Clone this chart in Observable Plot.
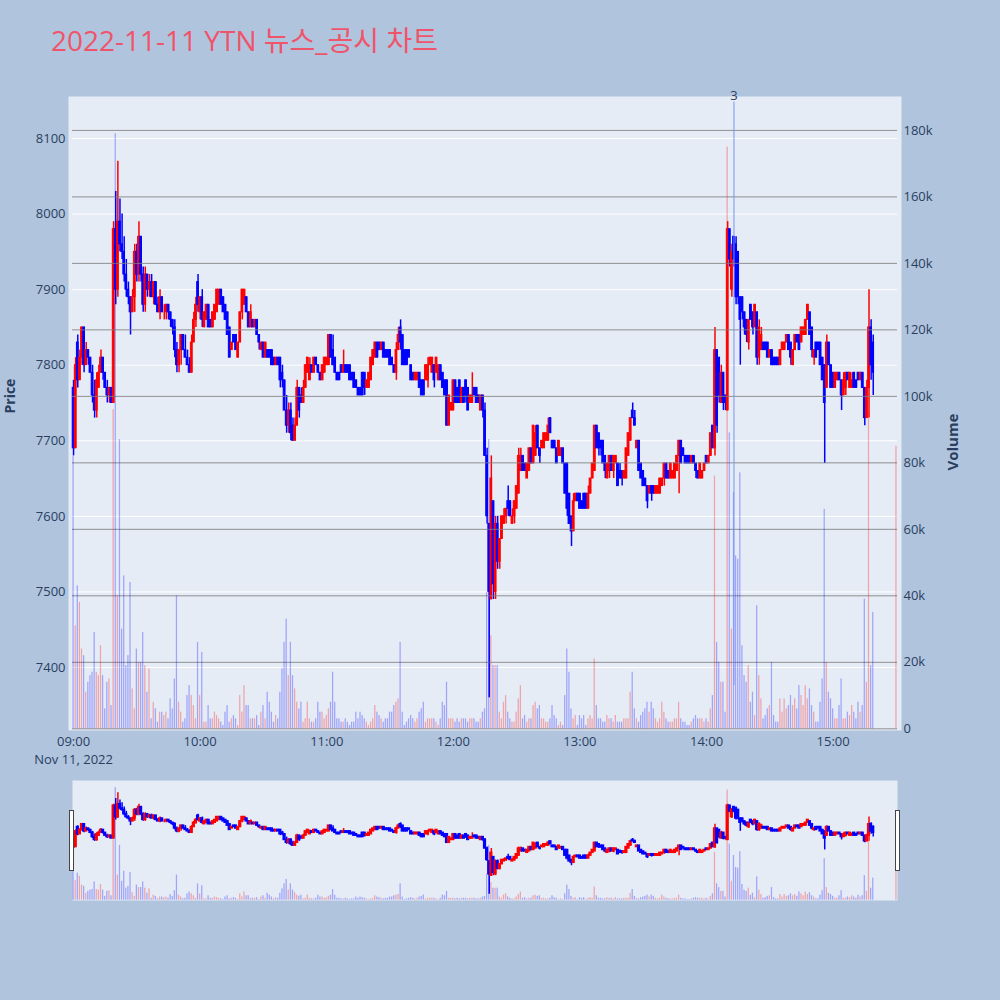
<!DOCTYPE html>
<html>
<head>
<meta charset="utf-8">
<script src="https://cdn.jsdelivr.net/npm/d3@7"></script>
<script src="https://cdn.jsdelivr.net/npm/@observablehq/plot@0.6"></script>
<style>
  body { margin: 0; background: #b0c4de; }
  #wrap { position: relative; width: 1000px; height: 1000px; overflow: hidden;
          font-family: "Open Sans", "Noto Sans CJK KR", sans-serif; }
  #title { position: absolute; left: 51px; top: 24px; font-size: 28px; line-height: 32px;
           color: #ef546b; white-space: nowrap; }
  .handle { position: absolute; top: 810px; width: 3px; height: 59px;
            background: #fff; border: 1px solid #444; }
</style>
</head>
<body>
<div id="wrap">
  <div id="title">2022-11-11 YTN 뉴스_공시 차트</div>
</div>
<script>
// One-minute candles from 09:00, KRW per share
const opens = [
  7770,7690,7830,7780,7810,7850,7800,7820,7810,7790,7760,7740,7770,7790,7810,7790,7770,7760,7770,7750,
  7980,7900,7990,7960,7950,7920,7900,7890,7870,7890,7950,7920,7970,7920,7880,7920,7900,7910,7890,7910,
  7880,7870,7890,7870,7870,7880,7870,7860,7850,7820,7800,7820,7840,7820,7810,7800,7790,7830,7860,7910,
  7870,7890,7850,7860,7880,7860,7850,7860,7870,7880,7900,7890,7880,7870,7850,7820,7840,7840,7810,7830,
  7870,7880,7890,7870,7850,7860,7850,7860,7840,7820,7830,7810,7820,7820,7820,7810,7800,7810,7810,7790,
  7780,7740,7720,7740,7720,7700,7720,7770,7760,7750,7770,7790,7780,7800,7790,7810,7800,7790,7780,7790,
  7800,7800,7840,7820,7810,7790,7790,7800,7790,7800,7800,7800,7790,7790,7780,7770,7770,7790,7790,7770,
  7770,7780,7800,7810,7830,7830,7820,7830,7820,7820,7820,7810,7800,7790,7820,7850,7840,7820,7820,7820,
  7800,7790,7780,7780,7790,7780,7780,7780,7780,7800,7790,7800,7790,7780,7800,7790,7780,7780,7720,7740,
  7740,7780,7770,7780,7750,7770,7780,7770,7750,7750,7770,7770,7760,7740,7760,7740,7680,7590,7490,7620,
  7500,7590,7540,7570,7590,7600,7620,7620,7590,7600,7610,7630,7660,7680,7670,7650,7660,7690,7670,7680,
  7720,7690,7690,7690,7700,7700,7730,7700,7700,7690,7680,7680,7690,7670,7670,7630,7600,7580,7620,7630,
  7630,7620,7630,7630,7610,7630,7650,7660,7720,7710,7700,7700,7680,7650,7660,7680,7660,7670,7670,7660,
  7660,7650,7650,7680,7700,7740,7730,7690,7700,7670,7660,7650,7640,7630,7640,7640,7630,7630,7630,7640,
  7650,7670,7660,7650,7650,7650,7660,7680,7700,7690,7680,7680,7680,7670,7680,7670,7660,7650,7650,7660,
  7680,7670,7680,7720,7690,7820,7810,7750,7790,7760,7740,7980,7900,7970,7960,7950,7890,7890,7870,7860,
  7830,7880,7870,7850,7870,7810,7820,7830,7830,7830,7810,7820,7810,7810,7810,7800,7820,7820,7830,7840,
  7830,7800,7820,7840,7840,7830,7840,7840,7860,7870,7850,7810,7830,7830,7830,7810,7800,7770,7830,7800,
  7790,7770,7780,7790,7780,7760,7770,7790,7770,7770,7790,7780,7790,7780,7790,7770,7730,7770,7850,7830
];
const highs = [
  7780,7810,7840,7820,7850,7850,7830,7820,7810,7800,7780,7790,7800,7820,7810,7790,7780,7770,7770,7990,
  8030,8070,8020,8000,7970,7940,7910,7890,7900,7960,7960,7990,7970,7930,7930,7920,7920,7920,7910,7910,
  7890,7900,7890,7880,7880,7880,7870,7860,7860,7830,7820,7840,7840,7840,7820,7810,7840,7870,7890,7920,
  7890,7900,7870,7880,7880,7860,7870,7880,7900,7900,7900,7890,7880,7870,7850,7830,7840,7840,7830,7870,
  7900,7900,7890,7870,7880,7860,7860,7860,7840,7830,7830,7830,7820,7820,7820,7810,7810,7810,7810,7800,
  7780,7760,7750,7750,7730,7730,7780,7770,7770,7780,7800,7810,7810,7800,7810,7810,7800,7790,7800,7810,
  7810,7840,7840,7840,7810,7790,7790,7800,7820,7800,7800,7800,7790,7790,7780,7770,7770,7790,7790,7780,
  7790,7810,7820,7830,7830,7830,7830,7830,7820,7820,7820,7810,7800,7830,7850,7860,7840,7820,7820,7820,
  7800,7790,7790,7790,7790,7780,7780,7800,7810,7810,7810,7800,7810,7800,7800,7790,7780,7780,7760,7750,
  7780,7780,7770,7780,7770,7770,7780,7770,7760,7790,7770,7770,7760,7760,7760,7750,7690,7590,7680,7620,
  7600,7600,7570,7600,7610,7610,7640,7620,7610,7620,7640,7690,7690,7680,7670,7670,7690,7690,7720,7720,
  7720,7690,7700,7710,7710,7730,7730,7700,7700,7690,7700,7690,7690,7670,7670,7630,7600,7630,7630,7630,
  7630,7620,7630,7630,7640,7650,7670,7720,7720,7710,7700,7700,7680,7670,7680,7680,7680,7680,7670,7670,
  7660,7660,7690,7710,7730,7750,7740,7700,7700,7670,7660,7650,7640,7640,7640,7640,7640,7640,7650,7650,
  7670,7670,7660,7670,7660,7670,7680,7700,7700,7690,7680,7680,7680,7680,7680,7670,7660,7670,7660,7670,
  7680,7680,7710,7720,7850,7820,7810,7800,7790,7760,7990,7980,7960,7970,7970,7950,7890,7890,7870,7860,
  7860,7880,7870,7880,7870,7860,7850,7830,7830,7830,7820,7820,7810,7810,7810,7820,7830,7830,7840,7840,
  7830,7820,7840,7840,7840,7850,7850,7860,7880,7870,7850,7820,7830,7830,7830,7810,7800,7840,7830,7800,
  7790,7790,7790,7790,7780,7790,7790,7790,7790,7790,7790,7780,7790,7790,7790,7770,7780,7900,7860,7840
];
const lows = [
  7680,7690,7770,7780,7800,7790,7800,7800,7790,7750,7730,7730,7770,7790,7780,7770,7750,7750,7750,7750,
  7880,7890,7950,7940,7910,7890,7880,7840,7870,7870,7910,7910,7910,7870,7870,7890,7890,7890,7880,7880,
  7870,7860,7870,7860,7860,7860,7850,7840,7810,7790,7790,7800,7820,7810,7800,7790,7790,7830,7850,7870,
  7860,7850,7850,7860,7850,7850,7850,7860,7870,7880,7880,7870,7860,7840,7810,7820,7830,7820,7810,7830,
  7860,7880,7870,7850,7850,7850,7850,7840,7820,7820,7810,7810,7810,7810,7800,7800,7800,7800,7770,7770,
  7740,7710,7710,7700,7700,7700,7720,7730,7750,7750,7770,7790,7780,7790,7790,7800,7790,7780,7780,7790,
  7800,7800,7810,7800,7790,7780,7780,7790,7790,7790,7790,7780,7780,7770,7770,7760,7760,7760,7760,7770,
  7770,7780,7800,7810,7810,7820,7820,7810,7810,7810,7800,7800,7790,7780,7820,7820,7800,7800,7800,7810,
  7780,7780,7780,7780,7770,7760,7760,7780,7770,7800,7790,7770,7790,7780,7780,7770,7760,7720,7720,7740,
  7740,7750,7750,7750,7750,7750,7750,7740,7750,7750,7760,7750,7750,7740,7730,7680,7590,7360,7490,7490,
  7490,7530,7530,7570,7590,7590,7600,7600,7590,7590,7610,7630,7660,7660,7660,7650,7660,7670,7670,7680,
  7690,7670,7690,7690,7700,7700,7710,7690,7690,7670,7680,7680,7670,7630,7600,7590,7560,7580,7620,7620,
  7610,7610,7610,7610,7610,7630,7650,7660,7690,7680,7680,7670,7650,7650,7650,7660,7650,7670,7640,7650,
  7640,7650,7650,7680,7700,7730,7720,7690,7660,7650,7640,7640,7610,7630,7620,7630,7630,7630,7630,7640,
  7640,7650,7650,7650,7650,7650,7660,7630,7670,7680,7670,7670,7670,7670,7670,7650,7650,7650,7650,7660,
  7670,7670,7680,7690,7680,7710,7750,7750,7740,7740,7740,7930,7890,7930,7880,7880,7800,7860,7840,7830,
  7820,7860,7840,7850,7800,7800,7820,7820,7820,7810,7810,7800,7800,7800,7800,7800,7820,7820,7830,7820,
  7800,7800,7820,7830,7820,7830,7840,7840,7860,7840,7810,7800,7810,7820,7800,7780,7670,7770,7800,7770,
  7770,7770,7780,7780,7740,7760,7760,7780,7770,7770,7770,7770,7780,7780,7770,7720,7730,7730,7780,7760
];
const closes = [
  7690,7800,7780,7810,7850,7800,7820,7810,7790,7760,7740,7780,7790,7810,7790,7770,7760,7770,7750,7980,
  7900,7990,7960,7950,7920,7900,7890,7870,7890,7950,7920,7970,7920,7880,7920,7900,7910,7890,7910,7880,
  7870,7890,7870,7870,7880,7870,7860,7850,7820,7800,7820,7840,7820,7810,7800,7790,7830,7860,7880,7880,
  7890,7860,7870,7880,7850,7850,7870,7880,7900,7900,7880,7870,7860,7840,7810,7830,7830,7820,7830,7870,
  7900,7900,7870,7850,7870,7850,7860,7840,7830,7830,7810,7830,7810,7810,7800,7800,7810,7800,7780,7780,
  7740,7720,7740,7710,7700,7720,7770,7740,7750,7770,7800,7810,7800,7790,7810,7800,7790,7780,7800,7810,
  7810,7840,7810,7800,7790,7780,7780,7790,7800,7790,7790,7780,7780,7770,7770,7760,7760,7760,7770,7780,
  7790,7810,7820,7830,7810,7820,7830,7810,7810,7810,7800,7800,7790,7820,7840,7830,7800,7800,7800,7810,
  7780,7780,7790,7790,7770,7760,7760,7800,7800,7810,7810,7780,7810,7800,7780,7770,7760,7720,7760,7750,
  7780,7750,7750,7750,7770,7750,7760,7740,7760,7760,7760,7750,7750,7760,7740,7680,7600,7500,7650,7510,
  7590,7540,7570,7600,7600,7610,7610,7600,7600,7620,7640,7680,7680,7660,7660,7670,7690,7670,7720,7710,
  7690,7680,7700,7710,7710,7720,7710,7690,7690,7670,7700,7690,7670,7630,7610,7590,7580,7620,7630,7620,
  7610,7610,7610,7610,7630,7650,7670,7720,7690,7690,7690,7670,7660,7670,7680,7660,7680,7680,7640,7650,
  7650,7660,7690,7710,7730,7730,7720,7700,7660,7650,7640,7640,7620,7640,7630,7630,7640,7640,7650,7650,
  7670,7650,7650,7670,7660,7670,7680,7700,7670,7680,7670,7670,7670,7680,7670,7660,7650,7670,7660,7670,
  7670,7680,7710,7690,7820,7720,7760,7790,7750,7750,7980,7940,7950,7940,7890,7890,7860,7870,7850,7840,
  7860,7860,7850,7880,7810,7850,7840,7820,7820,7810,7820,7800,7800,7800,7800,7820,7830,7830,7840,7820,
  7810,7820,7840,7830,7820,7850,7850,7860,7880,7840,7820,7820,7810,7820,7800,7780,7750,7830,7800,7770,
  7770,7790,7790,7780,7760,7780,7790,7780,7790,7780,7770,7770,7780,7790,7770,7730,7770,7850,7800,7790
];
// Traded shares per minute, in thousands
const volumesK = [
  82,31,43,38,24,22,11,14,16,17,29,17,16,25,16,6,14,15,7,96,
  179,40,87,30,46,19,22,44,12,6,24,20,20,29,19,11,18,3,8,6,
  2,5,5,4,5,3,9,6,15,40,8,5,2,3,10,13,10,7,3,26,
  10,23,2,2,7,3,3,5,4,3,2,1,5,7,2,3,4,3,1,10,
  5,13,7,7,3,3,3,4,1,5,7,3,11,8,5,2,4,3,11,18,
  26,33,16,26,16,12,8,6,8,2,3,8,3,2,2,3,8,5,5,3,
  4,6,8,17,8,3,3,2,2,3,2,1,2,2,5,3,5,4,3,2,
  1,2,3,7,5,4,3,2,3,3,5,5,7,8,9,26,5,1,2,3,
  4,3,2,3,5,6,8,2,3,3,3,3,2,1,3,8,7,14,3,3,
  3,2,3,2,3,3,3,2,3,3,3,2,2,3,5,6,41,87,28,19,
  19,19,5,3,8,10,5,3,2,2,5,9,13,3,4,2,3,3,7,8,
  6,7,3,3,2,2,3,7,4,3,1,2,1,10,24,17,6,3,4,1,
  4,3,4,1,3,4,3,21,7,3,3,2,2,4,3,3,2,4,2,2,
  2,3,3,3,11,17,6,3,2,4,5,6,8,5,8,6,3,2,3,8,
  5,3,2,2,2,3,3,8,3,2,2,1,1,2,3,4,3,3,3,2,
  3,2,6,10,76,26,20,14,14,5,175,89,30,71,52,51,77,25,16,14,
  19,8,11,4,37,16,9,3,4,6,7,20,4,2,2,9,5,9,6,7,
  10,7,9,6,13,10,7,13,9,12,7,5,2,2,8,15,66,20,11,9,
  6,3,3,7,15,3,3,5,4,7,5,3,8,5,7,39,14,95,19,35
];
// Closing single-price auction
const auctionMinute = [390];      // minutes after 09:00 (15:30)
const auctionPrice = [7790];
const auctionVolumeK = [85];
// Disclosure marker
const eventLabel = ["3"];
const eventMinute = [313];        // 14:13

const priceTicks = [7400, 7500, 7600, 7700, 7800, 7900, 8000, 8100];
const volumeTicks = [0, 20000, 40000, 60000, 80000, 100000, 120000, 140000, 160000, 180000];

const T0 = Date.UTC(2022, 10, 11, 9, 0);
const MIN = 60000;
const at = (m) => new Date(T0 + m * MIN);

const candles = opens.map((o, i) => ({
  t: at(i), o, h: highs[i], l: lows[i], c: closes[i], v: volumesK[i] * 1000
}));
auctionMinute.forEach((m, i) => candles.push({
  t: at(m), o: auctionPrice[i], h: auctionPrice[i], l: auctionPrice[i], c: auctionPrice[i], v: auctionVolumeK[i] * 1000
}));

const UP = "#ff0000", DOWN = "#0000ff";
const col = (d) => (d.c >= d.o ? UP : DOWN);
const FONT = '"Open Sans", "Noto Sans CJK KR", sans-serif';
const INK = "#2a3f5f";

const xDomain = [at(-0.5), at(390.5)];
const priceDomain = [7316.6, 8155.6];
const volDomain = [-510, 190200];
const hourTicks = d3.utcHours(at(0), at(361));

const wrap = document.getElementById("wrap");
function place(svg, top) {
  svg.style.position = "absolute";
  svg.style.left = "0px";
  svg.style.top = top + "px";
  wrap.appendChild(svg);
}

const common = { width: 1000, marginLeft: 72, marginRight: 103 };
const baseStyle = { background: "transparent", fontFamily: FONT, fontSize: "13px", color: INK, overflow: "visible" };

// Price panel: background, price grid, candles, time axis
function pricePanel({ height, marginTop, marginBottom, axes, wick, half, body }) {
  return Plot.plot({
    ...common, height, marginTop, marginBottom,
    style: baseStyle,
    x: { type: "utc", domain: xDomain, label: null, axis: null },
    y: { domain: priceDomain, label: null, axis: null },
    marks: [
      Plot.frame({ fill: "#E5ECF6", insetLeft: axes ? -4 : 0, insetRight: axes ? -4 : 0 }),
      axes ? Plot.ruleY(priceTicks, { stroke: "#ffffff", strokeWidth: 1 }) : null,
      Plot.ruleX(candles, { x: "t", y1: "l", y2: "h", stroke: col, strokeWidth: wick }),
      Plot.rect(candles, {
        x1: (d) => new Date(+d.t - half * MIN), x2: (d) => new Date(+d.t + half * MIN),
        y1: "o", y2: "c", fill: col, stroke: col, strokeWidth: body
      }),
      axes ? Plot.axisY({ ticks: priceTicks, tickFormat: (d) => String(d), tickSize: 0, tickPadding: 7, label: null, fontSize: 13 }) : null,
      axes ? Plot.axisX({ ticks: hourTicks, tickFormat: d3.utcFormat("%H:%M"), tickSize: 0, tickPadding: 6, label: null, fontSize: 13 }) : null,
      axes ? Plot.text(["Nov 11, 2022"], { x: at(0), frameAnchor: "bottom", dy: 33, fill: INK, fontSize: 13 }) : null,
      axes ? Plot.text(["Price"], { frameAnchor: "left", dx: -62, rotate: -90, fontWeight: "bold", fontSize: 14, fill: INK }) : null
    ]
  });
}

// Volume panel drawn over the price panel, on its own right-hand scale
function volumePanel({ height, marginTop, marginBottom, axes, half }) {
  return Plot.plot({
    ...common, height, marginTop, marginBottom,
    style: baseStyle,
    x: { type: "utc", domain: xDomain, label: null, axis: null },
    y: { domain: volDomain, label: null, axis: null },
    marks: [
      axes ? Plot.ruleY(volumeTicks, { stroke: "#808080", strokeOpacity: 0.85, strokeWidth: 1 }) : null,
      Plot.rect(candles, {
        x1: (d) => new Date(+d.t - half * MIN), x2: (d) => new Date(+d.t + half * MIN),
        y1: 0, y2: "v", fill: col, fillOpacity: 0.3
      }),
      axes ? Plot.ruleX(eventMinute, { x: (m) => at(m), y1: 13000, y2: 188500, stroke: "#7896ee", strokeWidth: 1 }) : null,
      axes ? Plot.text(eventLabel, { x: (d, i) => at(eventMinute[i]), y: 190300, fill: INK, fontSize: 13 }) : null,
      axes ? Plot.axisY({ anchor: "right", ticks: volumeTicks, tickFormat: d3.format("~s"), tickSize: 0, tickPadding: 6, label: null, fontSize: 13 }) : null,
      axes ? Plot.text(["Volume"], { frameAnchor: "right", dx: 56, rotate: -90, fontWeight: "bold", fontSize: 15, fill: INK }) : null
    ]
  });
}

// Main chart
place(pricePanel({ height: 780, marginTop: 96, marginBottom: 50, axes: true, wick: 1.5, half: 0.4, body: 1 }), 0);
place(volumePanel({ height: 780, marginTop: 96, marginBottom: 50, axes: true, half: 0.3 }), 0);

// Range slider overview
place(pricePanel({ height: 120, marginTop: 0, marginBottom: 0, axes: false, wick: 1.5, half: 0.4, body: 1.5 }), 780);
place(volumePanel({ height: 120, marginTop: 0, marginBottom: 0, axes: false, half: 0.3 }), 780);

for (const left of [69, 895]) {
  const h = document.createElement("div");
  h.className = "handle";
  h.style.left = left + "px";
  wrap.appendChild(h);
}
</script>
</body>
</html>
